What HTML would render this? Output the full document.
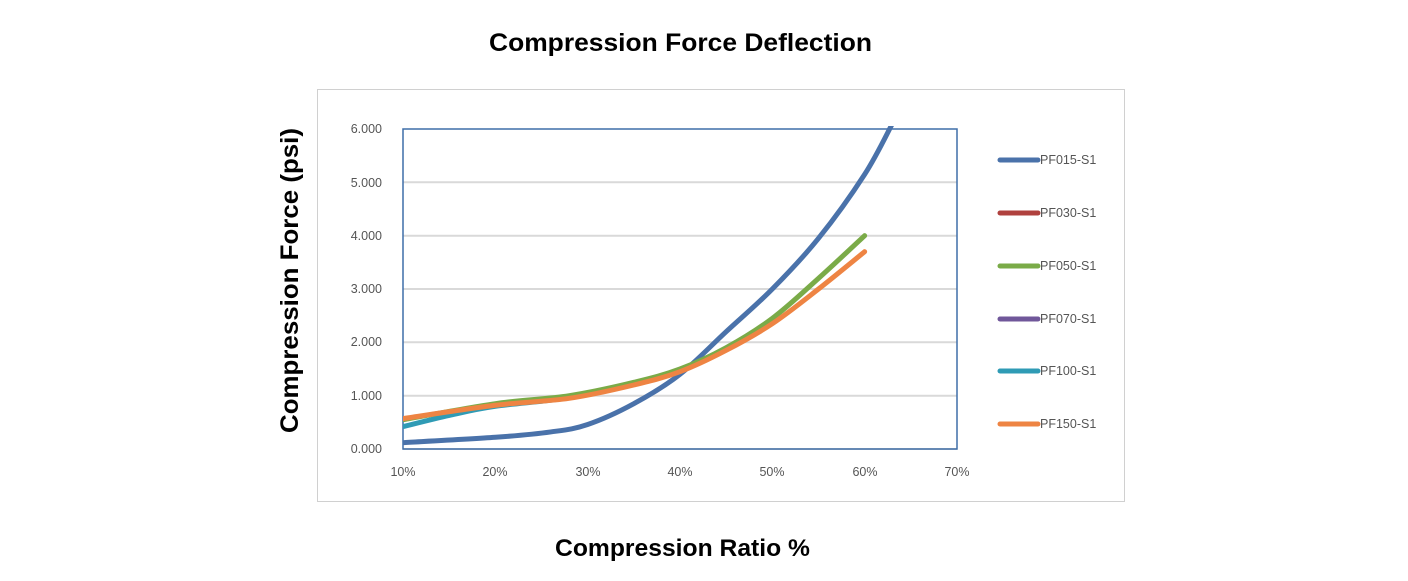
<!DOCTYPE html>
<html><head><meta charset="utf-8"><style>
body{margin:0;background:#fff;width:1408px;height:576px;overflow:hidden;font-family:"Liberation Sans",sans-serif}
</style></head><body>
<svg id="s" width="1408" height="576" xmlns="http://www.w3.org/2000/svg">
<text x="489" y="51" textLength="383" lengthAdjust="spacingAndGlyphs" font-weight="bold" font-size="25" font-family="Liberation Sans, sans-serif">Compression Force Deflection</text>
<text x="555" y="556" textLength="255" lengthAdjust="spacingAndGlyphs" font-weight="bold" font-size="24.5" font-family="Liberation Sans, sans-serif">Compression Ratio %</text>
<text transform="translate(298,433) rotate(-90)" textLength="305" lengthAdjust="spacingAndGlyphs" font-weight="bold" font-size="25" font-family="Liberation Sans, sans-serif">Compression Force  (psi)</text>
<rect x="317.5" y="89.5" width="807" height="412" fill="#fff" stroke="#d0d0d0"/>
<g stroke="#d9d9d9" stroke-width="2">
<line x1="403" x2="957" y1="182.3" y2="182.3"/><line x1="403" x2="957" y1="235.7" y2="235.7"/>
<line x1="403" x2="957" y1="289" y2="289"/><line x1="403" x2="957" y1="342.3" y2="342.3"/>
<line x1="403" x2="957" y1="395.7" y2="395.7"/><line x1="403" x2="957" y1="449" y2="449"/>
</g>
<rect x="403" y="129" width="554" height="320" fill="none" stroke="#3f6ea8" stroke-width="1.5"/>
<g font-size="12.5" fill="#555" font-family="Liberation Sans, sans-serif" text-anchor="end">
<text x="382" y="133">6.000</text><text x="382" y="187">5.000</text><text x="382" y="240">4.000</text>
<text x="382" y="293">3.000</text><text x="382" y="346">2.000</text><text x="382" y="400">1.000</text><text x="382" y="453">0.000</text>
</g>
<g font-size="12.5" fill="#555" font-family="Liberation Sans, sans-serif" text-anchor="middle">
<text x="403" y="476">10%</text><text x="495" y="476">20%</text><text x="588" y="476">30%</text><text x="680" y="476">40%</text>
<text x="772" y="476">50%</text><text x="865" y="476">60%</text><text x="957" y="476">70%</text>
</g>
<defs><clipPath id="c"><rect x="403" y="126" width="554" height="330"/></clipPath></defs>
<g id="lines" clip-path="url(#c)" fill="none" stroke-width="5" stroke-linecap="round"></g>
<g font-size="12.5" fill="#555" font-family="Liberation Sans, sans-serif" stroke-width="5" stroke-linecap="round">
<line x1="1000" x2="1038" y1="160" y2="160" stroke="#4a72aa"/><text x="1040" y="164">PF015-S1</text>
<line x1="1000" x2="1038" y1="213" y2="213" stroke="#b0413e"/><text x="1040" y="217">PF030-S1</text>
<line x1="1000" x2="1038" y1="266" y2="266" stroke="#7aab48"/><text x="1040" y="270">PF050-S1</text>
<line x1="1000" x2="1038" y1="319" y2="319" stroke="#70579a"/><text x="1040" y="323">PF070-S1</text>
<line x1="1000" x2="1038" y1="371" y2="371" stroke="#2f9bb5"/><text x="1040" y="375">PF100-S1</text>
<line x1="1000" x2="1038" y1="424" y2="424" stroke="#ee8443"/><text x="1040" y="428">PF150-S1</text>
</g>
</svg>
<script>
function X(p){return 403+(p-10)*9.233}function Y(v){return 449-v*53.33}
function path(pts){var P=pts.map(function(a){return[X(a[0]),Y(a[1])]});var d="M"+P[0][0]+","+P[0][1];
for(var i=0;i<P.length-1;i++){var p0=P[i-1]||P[i],p1=P[i],p2=P[i+1],p3=P[i+2]||p2;
d+=" C"+(p1[0]+(p2[0]-p0[0])/6)+","+(p1[1]+(p2[1]-p0[1])/6)+" "+(p2[0]-(p3[0]-p1[0])/6)+","+(p2[1]-(p3[1]-p1[1])/6)+" "+p2[0]+","+p2[1];}return d;}
var S=[
["#2f9bb5",[[10,0.42],[15,0.63],[20,0.8],[28,0.96],[35,1.22],[40,1.47]]],
["#4a72aa",[[10,0.12],[20,0.22],[26,0.32],[30,0.46],[35,0.85],[40,1.4],[45,2.2],[50,3.0],[55,3.95],[60,5.15],[63,6.1]]],
["#7aab48",[[10,0.55],[20,0.85],[28,1.0],[35,1.25],[40,1.5],[45,1.9],[50,2.45],[55,3.2],[60,4.0]]],
["#ee8443",[[10,0.57],[20,0.82],[28,0.95],[35,1.2],[40,1.45],[45,1.85],[50,2.35],[55,3.0],[60,3.7]]]];
var g=document.getElementById("lines");
S.forEach(function(s){var e=document.createElementNS("http://www.w3.org/2000/svg","path");e.setAttribute("d",path(s[1]));e.setAttribute("stroke",s[0]);g.appendChild(e);});
</script>
</body></html>
